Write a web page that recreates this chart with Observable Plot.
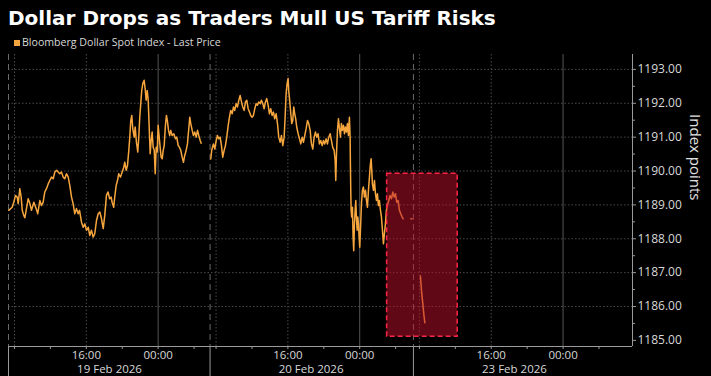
<!DOCTYPE html>
<html>
<head>
<meta charset="utf-8">
<script src="https://cdn.jsdelivr.net/npm/d3@7"></script>
<script src="https://cdn.jsdelivr.net/npm/@observablehq/plot@0.6"></script>
<style>
  html, body { margin: 0; padding: 0; background: #000; }
  #wrap { position: relative; width: 711px; height: 376px; background: #000; overflow: hidden; }
  #title { position: absolute; left: 8px; top: 5.5px; font-family: "DejaVu Sans", sans-serif; font-weight: 700; font-size: 20px; color: #fff; white-space: nowrap; line-height: normal; }
  #legend { position: absolute; left: 14px; top: 35px; font-family: "Open Sans", sans-serif; font-size: 10.6px; color: #d8d8d8; white-space: nowrap; line-height: normal; }
  #legend .sw { position: absolute; left: 0; top: 4.5px; width: 6px; height: 6px; background: #f5a540; }
  #legend .tx { position: absolute; left: 8px; top: 0; }
  #chart { position: absolute; left: 0; top: 50px; }
</style>
</head>
<body>
<div id="wrap">
  <div id="title"></div>
  <div id="legend"><span class="sw"></span><span class="tx"></span></div>
  <div id="chart"></div>
</div>
<script>
// ---------- data ----------
const titleText = "Dollar Drops as Traders Mull US Tariff Risks";
const seriesName = "Bloomberg Dollar Spot Index - Last Price";
const yLabel = "Index points";

// trading sessions (x = elapsed trading hours; each session opens 07:20)
const sessionLabels = ["19 Feb 2026", "20 Feb 2026", "23 Feb 2026"];
const sessionStarts = [0, 22.45, 45.1];
const sessionLength = 22.5;
const sessionOpen = "07:20";
const xDomain = [0, 69.5];

const minorClock = ["08:00", "12:00", "16:00", "20:00", "00:00", "04:00"];
const gridClock = ["08:00", "16:00"];
const midnightClock = ["00:00"];
const labelClock = ["16:00", "00:00"];

const yTicks = [1185, 1186, 1187, 1188, 1189, 1190, 1191, 1192, 1193];
const yMinor = [1185.5, 1186.5, 1187.5, 1188.5, 1189.5, 1190.5, 1191.5, 1192.5];
const yGrid = [1186, 1187, 1188, 1189, 1190, 1191, 1192, 1193];
const yDomain = [1184.82, 1193.44];

// [elapsed trading hours, index level]
const day1 = [
 [0.03,1188.84],[0.41,1188.93],[0.59,1189.08],[0.78,1189.28],[0.97,1189.23],[1.08,1189.04],[1.26,1189.48],[1.41,1189.23],
 [1.53,1188.84],[1.70,1188.69],[1.82,1188.62],[2.00,1188.89],[2.19,1189.18],[2.34,1189.08],[2.56,1188.84],[2.82,1189.08],
 [3.08,1188.89],[3.26,1188.74],[3.49,1189.13],[3.67,1188.98],[3.86,1189.08],[4.04,1189.38],[4.23,1189.48],[4.42,1189.62],
 [4.60,1189.72],[4.79,1189.82],[4.98,1189.77],[5.16,1189.97],[5.35,1190.02],[5.53,1189.97],[5.71,1189.92],[5.90,1189.97],
 [6.09,1189.82],[6.27,1189.77],[6.46,1189.92],[6.65,1189.82],[6.83,1189.57],[7.02,1189.23],[7.20,1189.03],[7.38,1188.74],
 [7.57,1188.89],[7.76,1188.74],[7.91,1188.84],[8.13,1188.49],[8.32,1188.34],[8.50,1188.44],[8.69,1188.25],[8.88,1188.34],
 [9.05,1188.10],[9.24,1188.25],[9.43,1188.05],[9.61,1188.15],[9.80,1188.54],[9.99,1188.74],[10.17,1188.79],[10.36,1188.59],
 [10.55,1188.30],[10.72,1188.69],[10.91,1189.28],[11.08,1189.38],[11.27,1189.18],[11.43,1189.23],[11.54,1189.08],[11.72,1188.93],
 [11.83,1189.23],[11.99,1189.57],[12.14,1189.72],[12.28,1189.92],[12.47,1189.82],[12.66,1189.97],[12.84,1190.11],[12.95,1190.26],
 [13.11,1190.02],[13.25,1190.16],[13.40,1190.61],[13.51,1191.00],[13.62,1191.49],[13.73,1191.64],[13.84,1191.25],[14.00,1191.00],
 [14.11,1191.30],[14.25,1190.85],[14.40,1190.56],[14.51,1191.00],[14.62,1191.59],[14.73,1191.99],[14.84,1192.38],[14.96,1192.58],
 [15.11,1192.68],[15.22,1192.43],[15.33,1192.09],[15.45,1192.38],[15.56,1192.09],[15.67,1191.30],[15.78,1190.51],[15.89,1190.90],
 [16.00,1191.15],[16.11,1190.70],[16.23,1190.61],[16.34,1189.92],[16.45,1190.70],[16.56,1190.56],[16.67,1191.35],[16.78,1191.00],
 [16.89,1190.70],[17.00,1190.41],[17.12,1190.36],[17.23,1190.61],[17.34,1190.75],[17.48,1191.35],[17.59,1191.64],[17.71,1191.45],
 [17.82,1191.20],[17.96,1191.05],[18.07,1191.20],[18.23,1191.05],[18.41,1191.10],[18.60,1190.95],[18.74,1191.00],[18.90,1190.75],
 [19.04,1190.70],[19.19,1190.61],[19.34,1190.41],[19.49,1190.26],[19.63,1190.46],[19.79,1190.61],[19.93,1190.80],[20.08,1191.25],
 [20.19,1191.59],[20.30,1191.40],[20.46,1191.20],[20.60,1191.05],[20.75,1191.15],[20.90,1191.00],[21.05,1191.20],[21.19,1191.05],
 [21.35,1190.90],[21.46,1190.82]
];
const day2 = [
 [22.53,1190.36],[22.63,1190.61],[22.72,1190.70],[22.83,1190.80],[22.98,1190.65],[23.13,1190.90],[23.27,1191.05],[23.42,1190.95],
 [23.57,1191.00],[23.72,1190.75],[23.86,1190.41],[24.02,1190.61],[24.16,1190.75],[24.31,1191.00],[24.47,1191.35],[24.61,1191.59],
 [24.75,1191.79],[24.91,1191.69],[25.06,1191.89],[25.20,1191.79],[25.35,1191.99],[25.50,1191.89],[25.65,1192.09],[25.80,1192.23],
 [25.95,1192.04],[26.09,1191.89],[26.25,1191.79],[26.39,1192.04],[26.54,1192.09],[26.69,1191.84],[26.84,1191.74],[26.98,1191.64],
 [27.14,1191.59],[27.28,1191.64],[27.43,1191.84],[27.58,1191.99],[27.73,1191.94],[27.87,1192.04],[28.03,1191.99],[28.17,1192.09],
 [28.32,1191.99],[28.47,1191.84],[28.62,1192.04],[28.76,1192.14],[28.92,1191.94],[29.06,1191.69],[29.21,1191.84],[29.36,1191.64],
 [29.51,1191.74],[29.65,1191.54],[29.81,1191.69],[29.96,1191.40],[30.10,1191.00],[30.26,1190.85],[30.40,1191.05],[30.55,1190.75],
 [30.70,1191.00],[30.81,1191.59],[30.92,1192.28],[31.03,1192.58],[31.14,1192.73],[31.21,1192.38],[31.33,1192.04],[31.44,1191.69],
 [31.55,1191.40],[31.66,1191.49],[31.77,1191.89],[31.88,1191.69],[31.99,1191.54],[32.10,1191.30],[32.26,1191.10],[32.41,1190.95],
 [32.55,1190.80],[32.71,1191.00],[32.85,1190.85],[33.00,1191.05],[33.15,1191.25],[33.30,1191.49],[33.44,1191.40],[33.60,1191.20],
 [33.74,1190.80],[33.89,1190.65],[34.04,1191.00],[34.19,1191.15],[34.33,1191.00],[34.48,1191.10],[34.63,1190.80],[34.78,1190.90],
 [34.94,1190.75],[35.08,1190.90],[35.22,1190.80],[35.38,1190.95],[35.52,1190.80],[35.67,1191.00],[35.82,1191.10],[35.97,1190.90],
 [36.11,1190.70],[36.27,1190.61],[36.38,1190.31],[36.45,1189.72],[36.53,1190.51],[36.64,1191.20],[36.75,1191.54],[36.86,1191.25],
 [36.97,1191.00],[37.08,1191.40],[37.19,1191.20],[37.31,1191.35],[37.42,1191.10],[37.53,1191.30],[37.64,1191.15],[37.75,1191.40],
 [37.86,1191.05],[37.97,1191.59],[38.05,1191.00],[38.08,1190.21],[38.12,1189.43],[38.16,1188.84],[38.23,1188.64],[38.31,1188.93],
 [38.38,1188.05],[38.45,1187.65],[38.53,1188.44],[38.61,1188.84],[38.68,1189.13],[38.75,1188.64],[38.83,1188.25],[38.90,1188.64],
 [38.98,1188.44],[39.05,1188.05],[39.12,1187.75],[39.20,1188.25],[39.31,1189.03],[39.42,1189.43],[39.53,1189.53],[39.64,1189.23],
 [39.76,1189.43],[39.87,1189.13],[39.98,1188.93],[40.09,1189.43],[40.20,1189.82],[40.31,1190.21],[40.39,1190.36],[40.46,1190.02],
 [40.53,1189.62],[40.65,1189.43],[40.76,1189.72],[40.87,1189.33],[40.98,1189.13],[41.09,1189.33],[41.20,1188.98],[41.31,1189.13],
 [41.43,1188.84],[41.54,1188.64],[41.65,1188.25],[41.76,1187.85],[41.87,1188.15],[41.98,1188.44],[42.09,1188.84],[42.20,1188.98],
 [42.35,1189.13],[42.50,1189.28],[42.65,1189.18],[42.80,1189.38],[42.95,1189.23],[43.10,1189.33],[43.24,1189.08],[43.40,1189.13],
 [43.54,1188.84],[43.69,1188.74],[43.85,1188.64],[43.96,1188.59]
];
const day2Close = [[44.82,1188.59],[44.93,1188.59]];
const day3 = [[45.88,1186.90],[46.00,1186.46],[46.15,1186.07],[46.26,1185.77],[46.37,1185.52]];

// highlighted region
const highlight = {t1: 42.17, t2: 50.03, v1: 1185.11, v2: 1189.92};

// ---------- build ----------
document.getElementById("title").textContent = titleText;
document.querySelector("#legend .tx").textContent = seriesName;

const clockToH = s => { const [h, m] = s.split(":").map(Number); return h + m / 60; };
const openH = clockToH(sessionOpen);
const offsetOf = s => (clockToH(s) - openH + 24) % 24;
const atClock = clocks => sessionStarts.flatMap(st => clocks.map(c => ({t: st + offsetOf(c), label: c})))
  .filter(d => d.t >= xDomain[0] && d.t <= xDomain[1]);

const minorTicks = atClock(minorClock).map(d => d.t);
const gridTicks = atClock(gridClock).map(d => d.t);
const midTicks = atClock(midnightClock).map(d => d.t);
const labelTicks = atClock(labelClock);
const dateLabels = sessionStarts.map((st, i) => ({t: st + sessionLength / 2, label: sessionLabels[i]}));

const points = [];
[day1, day2, day2Close, day3].forEach((seg, i) => seg.forEach(([t, v]) => points.push({t, v, seg: i})));

const orange = "#f7a63e";
const gridColor = "#4a4a4a";

const chart = Plot.plot({
  width: 711,
  height: 326,
  marginLeft: 8,
  marginRight: 79,
  marginTop: 4,
  marginBottom: 30,
  style: {background: "transparent", color: "#d8d8d8", fontFamily: "Open Sans, sans-serif", fontSize: "12px"},
  x: {domain: xDomain, axis: null},
  y: {domain: yDomain, axis: null},
  marks: [
    Plot.ruleY(yGrid, {stroke: gridColor, strokeDasharray: "1.5,2"}),
    Plot.ruleX(gridTicks, {stroke: gridColor, strokeDasharray: "1.5,2"}),
    Plot.ruleX(midTicks, {stroke: "#555"}),
    Plot.ruleX(sessionStarts, {stroke: "#6a6a6a", strokeDasharray: "6,4"}),
    Plot.line(points, {x: "t", y: "v", z: "seg", stroke: orange, strokeWidth: 1.5}),
    Plot.rect([highlight], {x1: "t1", x2: "t2", y1: "v1", y2: "v2", fill: "#c0102c", fillOpacity: 0.5,
      stroke: "#ff2446", strokeWidth: 1.5, strokeDasharray: "5,3"}),
    // axis lines
    Plot.ruleY([yDomain[0]], {stroke: "#9a9a9a"}),
    Plot.ruleX([xDomain[1]], {stroke: "#9a9a9a"}),
    // right axis
    Plot.axisY({anchor: "right", ticks: yTicks, tickSize: 3, tickPadding: 2, tickFormat: d => d.toFixed(2),
      label: null, stroke: "#9a9a9a", fill: "#d8d8d8", fontSize: 12}),
    Plot.axisY({anchor: "right", ticks: yMinor, tickSize: 2, tickFormat: () => "", label: null, stroke: "#9a9a9a"}),
    Plot.text([yLabel], {text: d => d, frameAnchor: "right", dx: 62, rotate: 90, fill: "#e0e0e0", fontSize: 15}),
    // bottom axis
    Plot.axisX({anchor: "bottom", ticks: minorTicks, tickSize: 3, tickFormat: () => "", label: null, stroke: "#9a9a9a"}),
    Plot.axisX({anchor: "bottom", ticks: sessionStarts, tickSize: 30, tickFormat: () => "", label: null, stroke: "#9a9a9a"}),
    Plot.text(labelTicks, {x: "t", text: "label", frameAnchor: "bottom", lineAnchor: "middle", dy: 9, fill: "#d8d8d8", fontSize: 11.5}),
    Plot.text(dateLabels, {x: "t", text: "label", frameAnchor: "bottom", lineAnchor: "middle", dy: 23, fill: "#d8d8d8", fontSize: 11.5})
  ]
});
document.getElementById("chart").appendChild(chart);
</script>
</body>
</html>
